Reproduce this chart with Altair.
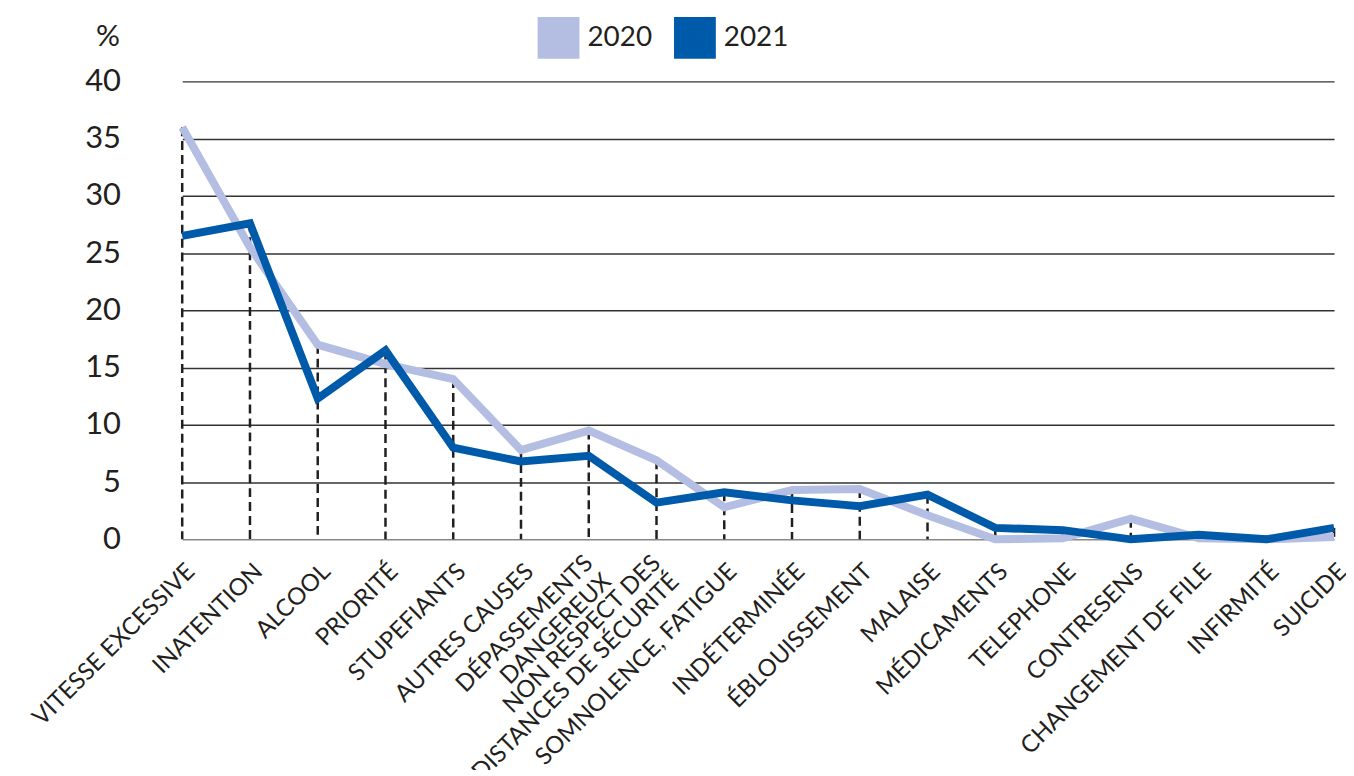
import altair as alt
import pandas as pd

categories = [
    "VITESSE EXCESSIVE", "INATENTION", "ALCOOL", "PRIORITÉ", "STUPEFIANTS",
    "AUTRES CAUSES", "DÉPASSEMENTS\nDANGEREUX", "NON RESPECT DES\nDISTANCES DE SÉCURITÉ",
    "SOMNOLENCE, FATIGUE", "INDÉTERMINÉE", "ÉBLOUISSEMENT", "MALAISE",
    "MÉDICAMENTS", "TELEPHONE", "CONTRESENS", "CHANGEMENT DE FILE",
    "INFIRMITÉ", "SUICIDE",
]
v2020 = [36.0, 25.5, 17.0, 15.3, 14.0, 7.8, 9.5, 6.9, 2.8, 4.3, 4.4, 2.1, 0.0, 0.1, 1.8, 0.1, 0.0, 0.2]
v2021 = [26.5, 27.6, 12.3, 16.5, 8.0, 6.8, 7.3, 3.2, 4.1, 3.4, 2.9, 3.9, 1.0, 0.8, 0.0, 0.4, 0.0, 1.0]
years = ["2020", "2021"]
colors = ["#b3bee2", "#005aaa"]
y_ticks = [0, 5, 10, 15, 20, 25, 30, 35, 40]

df = pd.DataFrame({"cause": categories, "2020": v2020, "2021": v2021})

multi_line = "indexof(datum.value, '\\n') >= 0"

x_enc = alt.X(
    "cause:N",
    sort=categories,
    scale=alt.Scale(type="point", range=[28, 1185], padding=0),
    axis=alt.Axis(
        title=None, domain=False, ticks=False, grid=False,
        labelAngle=-45, labelAlign="right",
        labelBaseline={"condition": {"test": multi_line, "value": "middle"}, "value": "top"},
        labelPadding=20, labelFontSize=24, labelLimit=0, labelColor="#231f20",
        labelLineHeight=26, labelExpr="split(datum.value, '\\n')",
    ),
)

y_scale = alt.Scale(domain=[0, 40], nice=False)
y_axis = alt.Axis(
    values=y_ticks, grid=True,
    gridColor={"condition": {"test": "datum.value === 0", "value": "#888888"}, "value": "#333333"},
    gridWidth=1.5, domain=False, ticks=False,
    labelFontSize=31, labelPadding=34, labelColor="#231f20",
    title="%", titleAngle=0, titleX=-35, titleY=-36, titleAlign="right",
    titleBaseline="alphabetic", titleFontSize=30, titleFontWeight="normal",
    titleColor="#231f20",
)

base = alt.Chart(df)

rules = base.transform_calculate(
    m="max(datum['2020'], datum['2021'])"
).mark_rule(strokeDash=[9, 5], strokeWidth=2.5, color="#231f20").encode(
    x=x_enc,
    y=alt.Y("m:Q", scale=y_scale, axis=y_axis),
    y2=alt.datum(0),
)

lines = base.transform_fold(years, as_=["year", "pct"]).mark_line(
    strokeWidth=8, strokeCap="butt", strokeJoin="miter"
).encode(
    x=x_enc,
    y=alt.Y("pct:Q", scale=y_scale, axis=y_axis),
    color=alt.Color(
        "year:N",
        scale=alt.Scale(domain=years, range=colors),
        legend=alt.Legend(
            title=None, orient="none", legendX=385, legendY=-65,
            direction="horizontal", symbolType="square", symbolSize=441,
            symbolStrokeWidth=21, labelFontSize=28, labelOffset=8,
            columnPadding=-10, padding=0, labelColor="#231f20",
        ),
    ),
)

chart = alt.layer(rules, lines).properties(
    width=1191,
    height=460,
    autosize=alt.AutoSizeParams(type="none"),
    padding={"left": 147, "top": 72, "right": 6, "bottom": 230},
).configure(font="Lato").configure_view(strokeWidth=0)

chart.save("out.html", embed_options={"renderer": "svg", "actions": False})
